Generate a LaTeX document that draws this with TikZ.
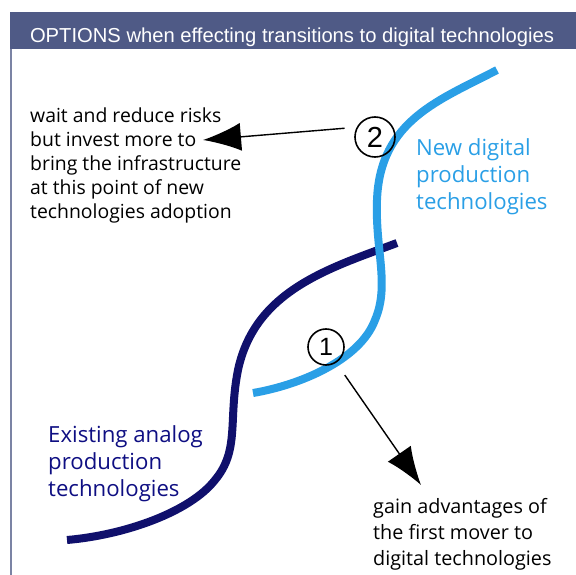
\documentclass[tikz,border=0pt]{standalone}
\usepackage{fontspec}
\setmainfont{Open Sans}
\newfontfamily\headfont{Liberation Sans}
\usetikzlibrary{arrows.meta}
\definecolor{band}{HTML}{4F5A86}
\definecolor{newtech}{HTML}{2A9FE6}
\definecolor{oldtech}{HTML}{10106C}
\tikzstyle{line} = [draw, line width=1.4pt, -{Latex[length=38pt,width=28pt]}]
\tikzstyle{note} = [anchor=north west, inner sep=0pt, align=left]
\tikzstyle{techtext} = [anchor=north west, inner sep=0pt, align=left, font=\fontsize{22.2}{27}\selectfont]
\tikzstyle{curve} = [line width=8pt]
\tikzstyle{numcircle} = [draw, circle, line width=1.6pt, inner sep=0pt, font=\headfont]

\begin{document}
\begin{tikzpicture}[x=1pt, y=-1pt]
        \useasboundingbox (0,0) rectangle (576,575);
        % header
        \fill[band] (10,12) rectangle (576,49);
        \draw[band!75, line width=2pt] (11,49) -- (11,575);
        \node[text=white, font=\headfont\fontsize{20.2}{22}\selectfont] (title) at (292,37) {OPTIONS when effecting transitions to digital technologies};
        % curves
        \draw[curve, oldtech] (397,243) .. controls (330,268) and (255,290) .. (238,370)
            .. controls (228,420) and (240,450) .. (215,480)
            .. controls (190,512) and (125,535) .. (67,540);
        \draw[curve, newtech] (497,70) .. controls (440,100) and (380,120) .. (377,200)
            .. controls (375,250) and (390,285) .. (375,320)
            .. controls (360,360) and (300,385) .. (253,393);
        % labels
        \node[techtext, text=newtech] (newdig) at (416,138) {New digital\\production\\technologies};
        \node[techtext, text=oldtech!85!blue] (oldana) at (48,425) {Existing analog\\production\\technologies};
        \node[note, font=\fontsize{19.4}{24}\selectfont] (wait) at (30,108) {wait and reduce risks\\but invest more to\\bring the infrastructure\\at this point of new\\technologies adoption};
        \node[note, font=\fontsize{19.8}{26}\selectfont] (gain) at (373,498) {gain advantages of\\the first mover to\\digital technologies};
        % points
        \node[numcircle, minimum size=40pt, font=\headfont\fontsize{29}{29}\selectfont] (c2) at (375,137) {2};
        \node[numcircle, minimum size=36pt, font=\headfont\fontsize{25}{25}\selectfont] (c1) at (326,347) {1};
        \coordinate (tip2) at (203,140);
        \coordinate (tip1) at (421,485);
        \path[line, shorten <=12pt] (c2.152) -- (tip2);
        \path[line, shorten <=15pt] (c1.-57) -- (tip1);
    \end{tikzpicture}
\end{document}
